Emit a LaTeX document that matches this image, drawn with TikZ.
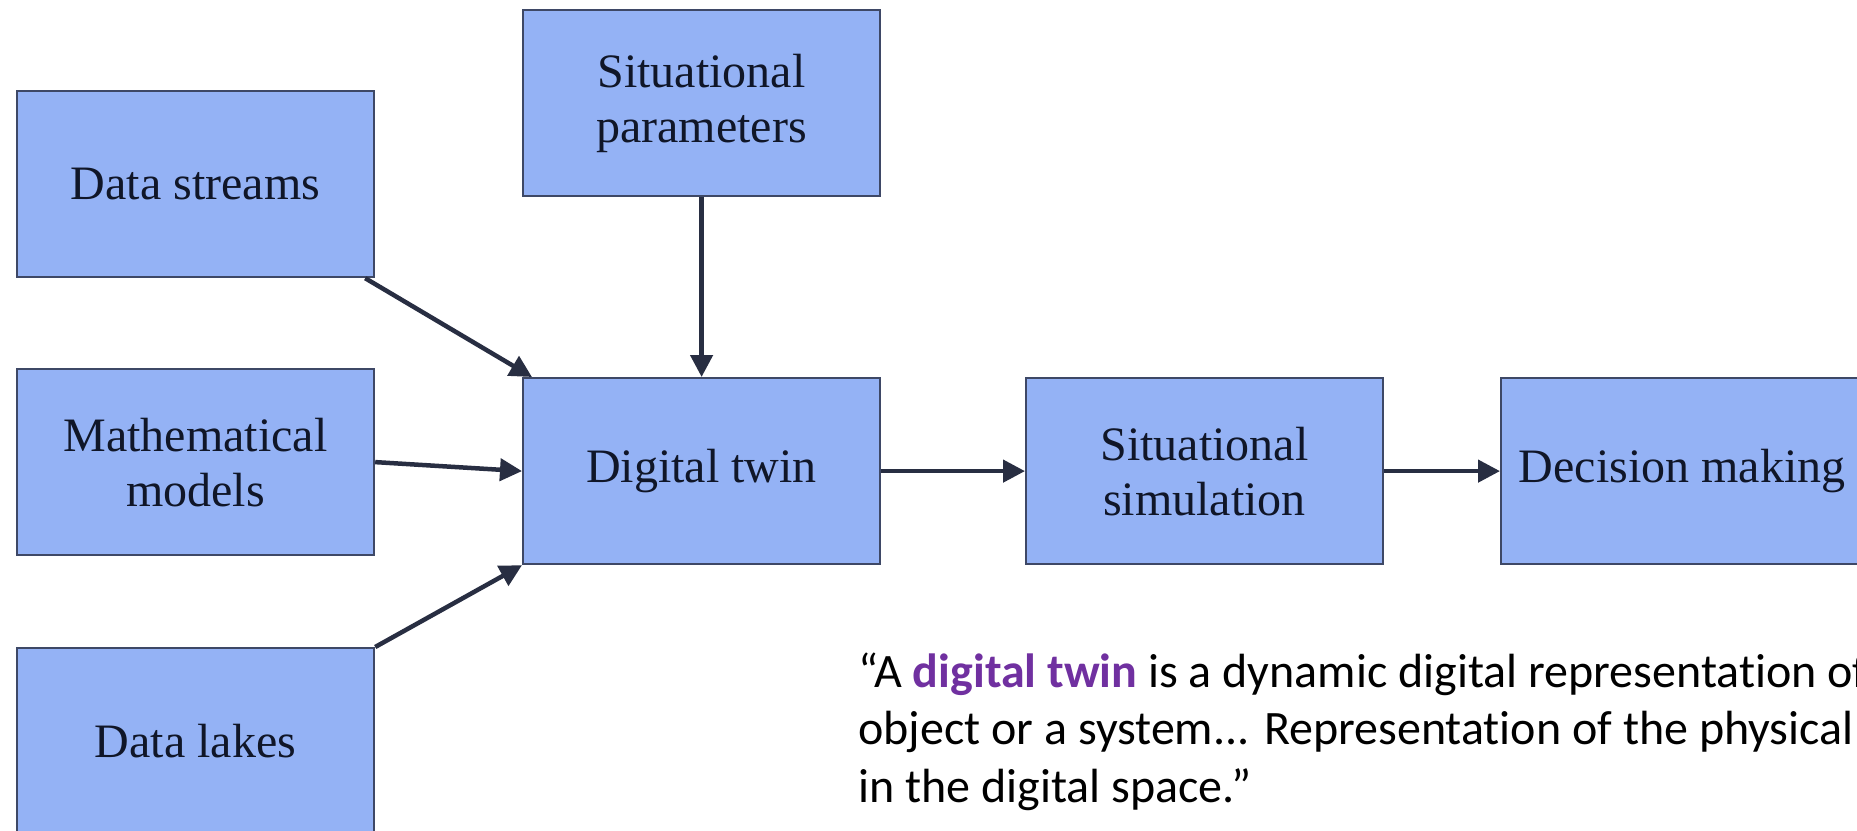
\documentclass[tikz,border=0pt]{standalone}
\usepackage{fontspec}
\setmainfont{Liberation Serif}
\newfontfamily\quotefont[Ligatures=CommonOff]{Carlito}
\usetikzlibrary{arrows.meta}
\definecolor{boxfill}{RGB}{148,178,245}
\definecolor{boxline}{RGB}{62,72,102}
\definecolor{arrowc}{RGB}{40,46,66}
\definecolor{boxtext}{RGB}{16,22,40}
\definecolor{twinpurple}{RGB}{112,48,160}
\begin{document}
\begin{tikzpicture}[x=1pt,y=-1pt,
  box/.style={draw=boxline, line width=2.2pt, fill=boxfill, anchor=north west,
    minimum width=357pt, minimum height=186pt, inner sep=0pt, align=center,
    text=boxtext, font=\fontsize{48}{55}\selectfont},
  arr/.style={draw=arrowc, line width=4.5pt, -{Triangle[length=22pt,width=22pt]}},
  quoteline/.style={anchor=base west, inner sep=0pt, font=\quotefont\fontsize{48}{58}\selectfont}]
\useasboundingbox (0,0) rectangle (1857,830);
\clip (0,0) rectangle (1857,830);
\fill[white] (0,0) rectangle (1857,830);
% boxes
\node[box] (ds) at (16,90) {Data streams};
\node[box] (sp) at (522,9) {Situational\\parameters};
\node[box] (mm) at (16,368) {Mathematical\\models};
\node[box] (dt) at (522,377) {Digital twin};
\node[box] (dl) at (16,647) {Data lakes};
\node[box] (ss) at (1025,377) {Situational\\simulation};
\node[box, minimum width=362pt] (dm) at (1500,377) {Decision making};
% connectors
\draw[arr] ([xshift=-10pt]ds.south east) -- ([xshift=10pt]dt.north west);
\draw[arr] (sp.south) -- (dt.north);
\draw[arr] (mm.east) -- (dt.west);
\draw[arr] (dl.north east) -- (dt.south west);
\draw[arr] (dt.east) -- (ss.west);
\draw[arr] (ss.east) -- (dm.west);
% quote
\node[quoteline] (q1) at (858,687) {“A {\bfseries\color{twinpurple}digital twin} is a dynamic digital representation of};
\node[quoteline] (q2) at (858,744) {object or a system... Representation of the physical};
\node[quoteline] (q3) at (858,802) {in the digital space.”};
\end{tikzpicture}
\end{document}
